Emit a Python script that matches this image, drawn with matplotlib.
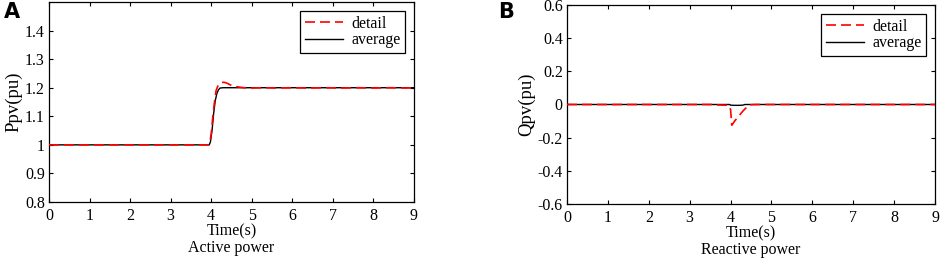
import matplotlib.pyplot as plt

plt.rcParams['font.family'] = ['Liberation Serif', 'DejaVu Serif']
plt.rcParams['font.size'] = 11.5

# --- panel A: active power ---
t_avg_p = [0, 3.95, 3.98, 4.02, 4.06, 4.10, 4.14, 4.18, 4.22, 4.3, 9.0]
p_avg = [1.0, 1.0, 1.01, 1.05, 1.11, 1.155, 1.18, 1.193, 1.199, 1.2, 1.2]

t_det_p = [0, 3.93, 3.97, 4.0, 4.04, 4.08, 4.12, 4.16, 4.2, 4.25, 4.3, 4.35, 4.4,
           4.5, 4.6, 4.7, 4.8, 5.0, 5.3, 5.6, 6.0, 6.4, 6.8, 7.2, 7.6, 8.0, 8.4, 8.8, 9.0]
p_det = [1.0, 1.0, 1.01, 1.04, 1.1, 1.15, 1.19, 1.205, 1.213, 1.218, 1.219, 1.218, 1.215,
         1.208, 1.204, 1.202, 1.2, 1.199, 1.2, 1.199, 1.2, 1.199, 1.2, 1.199, 1.2, 1.199, 1.2, 1.199, 1.2]

# --- panel B: reactive power ---
t_avg_q = [0, 3.98, 4.0, 4.1, 4.2, 4.3, 4.35, 9.0]
q_avg = [0.0, 0.0, -0.004, -0.005, -0.005, -0.004, 0.0, 0.0]

t_det_q = [0, 3.6, 3.7, 3.95, 4.0, 4.03, 4.1, 4.2, 4.3, 4.4, 4.46, 4.6, 5.0, 9.0]
q_det = [0.0, 0.0, -0.003, -0.004, -0.03, -0.125, -0.1, -0.07, -0.04, -0.015, -0.002, 0.0, 0.0, 0.0]

fig = plt.figure(figsize=(9.44, 2.58), dpi=100)
ax1 = fig.add_axes([49 / 944, 1 - 202 / 258, 365 / 944, 200 / 258])
ax2 = fig.add_axes([567 / 944, 1 - 204 / 258, 368 / 944, 199 / 258])

panels = [
    (ax1, t_det_p, p_det, t_avg_p, p_avg, (0.8, 1.5), [0.8, 0.9, 1.0, 1.1, 1.2, 1.3, 1.4],
     ['0.8', '0.9', '1', '1.1', '1.2', '1.3', '1.4'], 'Ppv(pu)', 'Active power'),
    (ax2, t_det_q, q_det, t_avg_q, q_avg, (-0.6, 0.6), [-0.6, -0.4, -0.2, 0, 0.2, 0.4, 0.6],
     ['-0.6', '-0.4', '-0.2', '0', '0.2', '0.4', '0.6'], 'Qpv(pu)', 'Reactive power'),
]

for ax, td, yd, ta, ya, ylim, yt, ytl, ylab, title in panels:
    ax.plot(ta, ya, color='black', lw=1.0, label='average', zorder=2)
    ax.plot(td, yd, color='red', lw=1.2, dashes=(6, 3), label='detail', zorder=3)
    ax.set_xlim(0, 9)
    ax.set_ylim(*ylim)
    ax.set_xticks(range(10))
    ax.set_yticks(yt)
    ax.set_yticklabels(ytl)
    ax.tick_params(axis='x', direction='in', top=True, length=3, width=0.8, pad=4)
    ax.tick_params(axis='y', direction='in', right=True, length=3, width=0.8, pad=3)
    ax.set_ylabel(ylab, labelpad=2, fontsize=13.5)
    ax.set_xlabel('Time(s)\n' + title, labelpad=0, linespacing=1.05)
    for sp in ax.spines.values():
        sp.set_linewidth(0.9)
    h, l = ax.get_legend_handles_labels()
    leg = ax.legend(h[::-1], l[::-1], loc='upper right', fancybox=False, edgecolor='black',
                    framealpha=1, handlelength=2.4, borderpad=0.3, labelspacing=0.05,
                    handletextpad=0.5, borderaxespad=0.55, fontsize=11.5)
    leg.get_frame().set_linewidth(0.9)

fig.text(4 / 944, 1 - 12 / 258, 'A', family='DejaVu Sans', weight='bold', fontsize=15, va='center')
fig.text(498 / 944, 1 - 12 / 258, 'B', family='DejaVu Sans', weight='bold', fontsize=15, va='center')

fig.savefig('out.png', dpi=100)
